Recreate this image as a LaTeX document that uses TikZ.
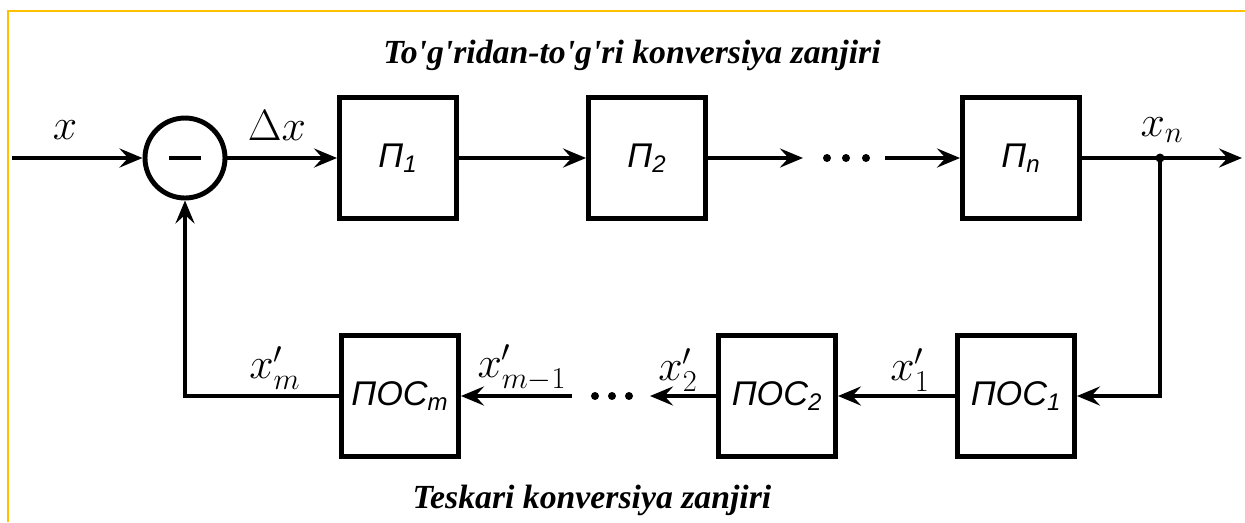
\documentclass[tikz,border=0pt]{standalone}
\usepackage{fontspec}
\setmainfont{Liberation Serif}
\newfontfamily\cyrfont{Liberation Sans}
\usetikzlibrary{arrows.meta,positioning,calc}
\definecolor{ramka}{HTML}{FFC000}
\newcommand{\ap}{\textquotesingle}

\begin{document}
\begin{tikzpicture}[x=0.02cm,y=-0.02cm,line width=2.3pt,
    blok/.style={draw,line width=2.8pt,minimum width=2.34cm,minimum height=2.42cm,
      inner sep=1pt,font=\fontsize{19.5}{23}\selectfont\cyrfont\itshape},
    strelka/.style={-{Stealth[length=4.6mm,width=3.8mm,inset=1.7mm]}},
    metka/.style={font=\fontsize{24}{28}\selectfont},
    sarlavha/.style={font=\fontsize{19.2}{23}\selectfont\bfseries\itshape}]
        \useasboundingbox (0,0) rectangle (1245,522);
        \draw[ramka,line width=1.2pt] (8,522) -- (8,11) -- (1245,11);
        \node[sarlavha] (tugri) at (632,55) {To\ap g\ap ridan-to\ap g\ap ri konversiya zanjiri};
        \node[sarlavha] (teskari) at (592,500) {Teskari konversiya zanjiri};
        \node[draw,circle,line width=2.8pt,minimum size=1.6cm] (sum) at (185,158) {};
        \draw[line width=2.4pt] ([xshift=-0.32cm]sum.center) -- ([xshift=0.32cm]sum.center);
        \node[blok] (p1) at (398,158) {П\textsubscript{1}};
        \node[blok] (p2) at (647,158) {П\textsubscript{2}};
        \node[blok] (pn) at (1021,158) {П\textsubscript{\itshape n}};
        \node[blok] (pos1) at (1016,396) {ПОС\textsubscript{1}};
        \node[blok] (pos2) at (777,396) {ПОС\textsubscript{2}};
        \node[blok] (posm) at (400,396) {ПОС\textsubscript{\itshape m}};
        \coordinate (kirish) at (12,158);
        \coordinate (chiqish) at (1242,158);
        \coordinate (tugun) at (1160,158);
        \coordinate (nuqta1) at (803,158);
        \coordinate (nuqta2) at (885,158);
        \coordinate (nuqta3) at (650,396);
        \coordinate (nuqta4) at (572,396);
        \draw[strelka] (kirish) -- (sum);
        \draw[strelka] (sum) -- (p1);
        \draw[strelka] (p1) -- (p2);
        \draw[strelka] (p2) -- (nuqta1);
        \draw[strelka] (nuqta2) -- (pn);
        \draw[strelka] (pn) -- (chiqish);
        \fill (tugun) circle (4.5);
        \draw[strelka] (tugun) |- (pos1.east);
        \draw[strelka] (pos1) -- (pos2);
        \draw[strelka] (pos2) -- (nuqta3);
        \draw[strelka] (nuqta4) -- (posm);
        \draw[strelka] (posm.west) -| (sum.south);
        \foreach \i in {827,846,866} \fill (\i,158) circle (4);
        \foreach \i in {595,612,629} \fill (\i,396) circle (4);
        \node[metka] (lx) at (65,130) {$x$};
        \node[metka] (ldx) at (277,126) {$\Delta x$};
        \node[metka] (lxn) at (1162,130) {$x_n$};
        \node[metka] (lxm) at (275,368) {$x'_m$};
        \node[metka] (lxm1) at (522,368) {$x'_{m-1}$};
        \node[metka] (lx2) at (678,370) {$x'_2$};
        \node[metka] (lx1) at (910,370) {$x'_1$};
      \end{tikzpicture}
\end{document}
